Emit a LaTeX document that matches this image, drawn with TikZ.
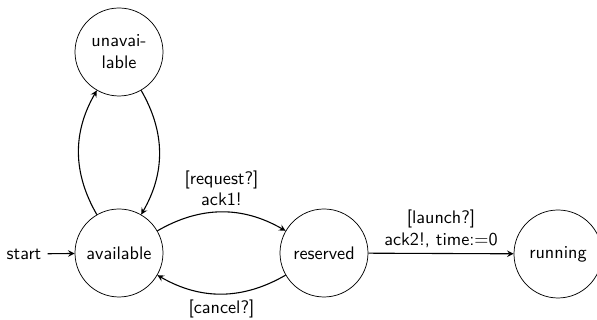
\documentclass[tikz,border=0pt]{standalone}
\usetikzlibrary{arrows}
\begin{document}
\begin{tikzpicture}[x=0.55pt,y=-0.55pt,>=stealth,
  font=\sffamily,
  state/.style={circle,draw,minimum size=48.4pt,inner sep=0pt,align=center},
  edge/.style={->,semithick},
  lbl/.style={align=center,inner sep=3pt}]
\useasboundingbox (0,0) rectangle (597,320);
\node[state] (unav) at (119,52) {unavai-\\lable};
\node[state] (avail) at (119,253) {available};
\node[state] (res) at (324,253) {reserved};
\node[state] (run) at (558,254) {running};
\node (start) at (24,254) {start};
\draw[edge] (start) -- (avail);
\draw[edge] (avail) to[bend left=30] (unav);
\draw[edge] (unav) to[bend left=30] (avail);
\draw[edge] (avail) to[bend left=30] node[lbl,above] {[request?]\\ack1!} (res);
\draw[edge] (res) to[bend left=30] node[lbl,below] {[cancel?]} (avail);
\draw[edge] (res) -- node[lbl,above] {[launch?]\\ack2!, time:=0} (run);
\end{tikzpicture}
\end{document}
